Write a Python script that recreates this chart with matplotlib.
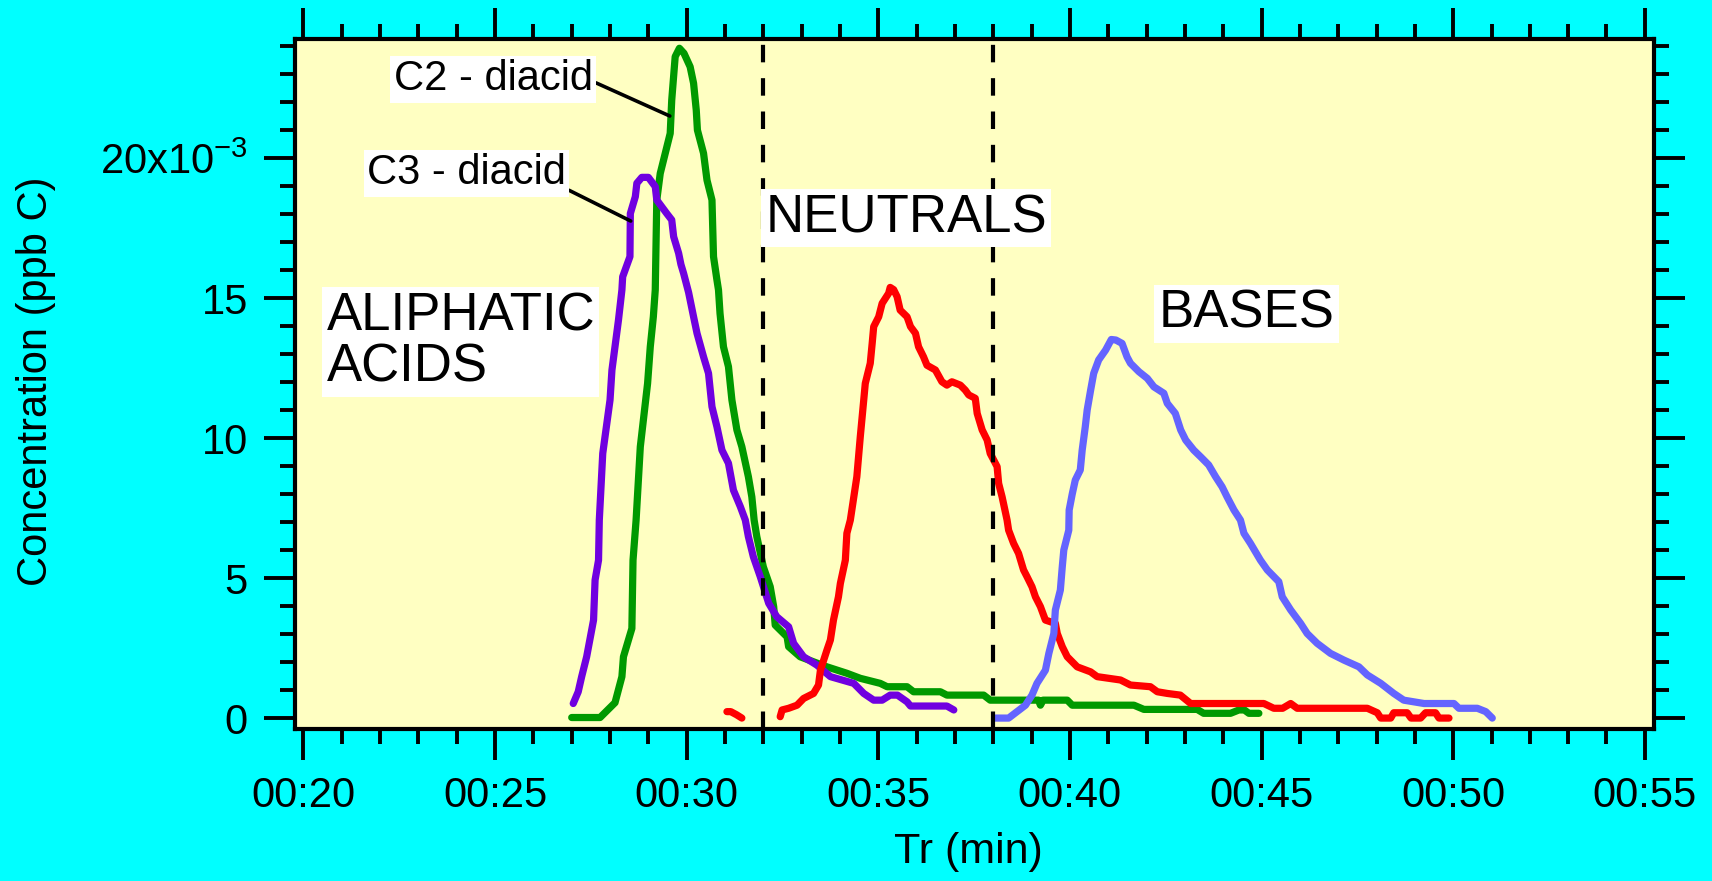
import matplotlib
matplotlib.use("Agg")
import matplotlib.pyplot as plt
from matplotlib.ticker import MultipleLocator, FuncFormatter

plt.rcParams['font.family'] = ['Liberation Sans', 'DejaVu Sans']
plt.rcParams['mathtext.default'] = 'regular'

# retention time (min) and concentration (x10^-3 ppb C)
c2_t = [27.00, 27.74, 28.13, 28.31, 28.35, 28.57, 28.60, 28.68, 28.79, 28.98, 29.05, 29.13,
        29.18, 29.22, 29.31, 29.57, 29.61, 29.70, 29.81, 29.93, 30.09, 30.18, 30.25, 30.28,
        30.44, 30.53, 30.66, 30.70, 30.79, 30.83, 30.87, 30.96, 31.09, 31.18, 31.31, 31.44,
        31.61, 31.70, 31.76, 31.83, 32.00, 32.18, 32.27, 32.31, 32.62, 32.66, 32.96, 33.31,
        33.66, 34.18, 34.53, 35.05, 35.23, 35.75, 35.92, 36.62, 36.79, 37.75, 37.92, 39.18,
        39.23, 39.30, 39.93, 40.06, 41.67, 41.93, 43.32, 43.49, 44.19, 44.41, 44.55, 44.67, 44.93]
c2_v = [0.02, 0.02, 0.55, 1.48, 2.19, 3.20, 5.64, 7.07, 9.69, 11.95, 13.26, 14.33,
        15.29, 18.50, 19.45, 20.88, 22.07, 23.62, 23.92, 23.74, 23.26, 22.67, 21.71, 21.00,
        20.17, 19.21, 18.50, 16.48, 15.64, 15.29, 14.45, 13.26, 12.55, 11.36, 10.29, 9.69,
        8.62, 7.90, 7.07, 6.48, 5.40, 4.69, 3.98, 3.32, 2.90, 2.55, 2.19, 2.01,
        1.83, 1.60, 1.42, 1.24, 1.12, 1.12, 0.94, 0.94, 0.82, 0.82, 0.64, 0.64,
        0.46, 0.64, 0.64, 0.46, 0.46, 0.31, 0.31, 0.17, 0.17, 0.29, 0.29, 0.17, 0.17]

c3_t = [27.04, 27.17, 27.26, 27.39, 27.57, 27.61, 27.70, 27.72, 27.81, 28.00, 28.05, 28.22,
        28.31, 28.33, 28.52, 28.53, 28.66, 28.70, 28.83, 29.00, 29.18, 29.22, 29.48, 29.61,
        29.66, 29.79, 29.85, 29.92, 30.05, 30.18, 30.27, 30.44, 30.57, 30.66, 30.79, 30.92,
        31.09, 31.22, 31.40, 31.53, 31.61, 31.74, 31.92, 32.14, 32.35, 32.66, 32.79, 33.05,
        33.40, 33.75, 34.36, 34.62, 34.88, 35.10, 35.31, 35.50, 35.75, 35.84, 36.79, 36.97]
c3_v = [0.52, 0.94, 1.48, 2.19, 3.50, 4.93, 5.64, 7.07, 9.45, 11.36, 12.43, 14.21,
        15.29, 15.76, 16.48, 18.02, 18.62, 19.10, 19.31, 19.31, 18.98, 18.50, 18.02, 17.79,
        17.19, 16.60, 16.20, 15.88, 15.20, 14.33, 13.74, 12.90, 12.31, 11.12, 10.40, 9.57,
        9.10, 8.14, 7.55, 7.07, 6.48, 5.76, 5.05, 4.10, 3.62, 3.26, 2.67, 2.19,
        1.89, 1.48, 1.24, 0.88, 0.64, 0.64, 0.82, 0.82, 0.58, 0.43, 0.43, 0.29]

neutral_frag_t = [31.05, 31.15, 31.30, 31.44]
neutral_frag_v = [0.23, 0.23, 0.12, 0.00]
neutral_t = [32.44, 32.49, 32.66, 32.88, 33.05, 33.31, 33.44, 33.49, 33.66, 33.75, 33.83, 33.96,
             34.01, 34.14, 34.18, 34.27, 34.44, 34.53, 34.62, 34.66, 34.79, 34.84, 34.88, 35.01,
             35.10, 35.27, 35.31, 35.40, 35.49, 35.57, 35.75, 35.84, 35.97, 36.05, 36.18, 36.27,
             36.49, 36.66, 36.79, 36.92, 37.14, 37.27, 37.36, 37.53, 37.58, 37.71, 37.84, 37.92,
             38.10, 38.14, 38.23, 38.36, 38.40, 38.53, 38.66, 38.79, 38.88, 39.01, 39.10, 39.23,
             39.36, 39.62, 39.67, 39.80, 39.93, 40.19, 40.54, 40.71, 41.32, 41.58, 42.10, 42.28,
             42.54, 42.88, 43.15, 45.06, 45.32, 45.55, 45.76, 45.93, 47.76, 48.02, 48.11, 48.37,
             48.45, 48.80, 48.90, 49.15, 49.28, 49.54, 49.63, 49.89]
neutral_v = [0.05, 0.29, 0.35, 0.46, 0.70, 0.88, 1.18, 1.71, 2.43, 2.79, 3.50, 4.33,
             4.81, 5.64, 6.60, 7.07, 8.62, 10.05, 11.36, 11.95, 12.67, 13.38, 13.98, 14.33,
             14.81, 15.17, 15.38, 15.30, 15.05, 14.57, 14.33, 13.98, 13.74, 13.26, 12.90, 12.60,
             12.43, 12.01, 11.89, 12.01, 11.89, 11.71, 11.54, 11.42, 10.88, 10.29, 9.93, 9.45,
             8.98, 8.38, 7.90, 7.07, 6.71, 6.24, 5.88, 5.29, 5.05, 4.69, 4.33, 3.98,
             3.50, 3.38, 3.02, 2.55, 2.19, 1.83, 1.65, 1.48, 1.36, 1.18, 1.12, 0.94,
             0.88, 0.82, 0.52, 0.52, 0.35, 0.35, 0.52, 0.35, 0.35, 0.19, 0.00, 0.00,
             0.19, 0.19, 0.00, 0.00, 0.19, 0.19, 0.00, 0.00]

base_t = [38.05, 38.40, 38.62, 38.84, 39.01, 39.14, 39.36, 39.45, 39.58, 39.62, 39.75, 39.80,
          39.84, 39.97, 39.98, 40.06, 40.14, 40.27, 40.32, 40.40, 40.45, 40.54, 40.62, 40.75,
          40.93, 41.08, 41.20, 41.36, 41.49, 41.58, 41.80, 42.02, 42.19, 42.45, 42.54, 42.75,
          42.89, 43.02, 43.23, 43.41, 43.62, 43.80, 43.97, 44.10, 44.28, 44.45, 44.54, 44.71,
          44.97, 45.15, 45.45, 45.54, 45.76, 46.02, 46.19, 46.45, 46.80, 47.15, 47.54, 47.76,
          48.11, 48.45, 48.71, 49.24, 50.02, 50.15, 50.63, 50.85, 51.02]
base_v = [0.00, 0.00, 0.23, 0.46, 0.82, 1.24, 1.71, 2.31, 3.02, 3.86, 4.57, 5.40,
          6.00, 6.71, 7.43, 8.00, 8.50, 8.86, 9.57, 10.40, 11.00, 11.71, 12.31, 12.79,
          13.14, 13.52, 13.50, 13.38, 12.90, 12.67, 12.37, 12.13, 11.83, 11.60, 11.24, 10.88,
          10.29, 9.93, 9.57, 9.33, 9.04, 8.62, 8.26, 7.90, 7.43, 7.07, 6.60, 6.24,
          5.64, 5.29, 4.87, 4.33, 3.86, 3.38, 3.02, 2.67, 2.31, 2.07, 1.83, 1.54,
          1.24, 0.88, 0.64, 0.52, 0.52, 0.35, 0.35, 0.23, 0.00]

fraction_bounds = [32, 38]
y_ticks = [0, 5, 10, 15, 20]
y_tick_labels = ['0', '5', '10', '15', '20x10$^{-3}$']

# label text, text position, leader line end (or None)
labels = [
    ('C2 - diacid', (24.95, 22.81), (29.56, 21.50), (1.0, 0.45), 30),
    ('C3 - diacid', (24.25, 19.45), (28.54, 17.75), (1.0, 0.12), 30),
    ('NEUTRALS', (35.73, 17.85), None, None, 38),
    ('BASES', (44.61, 14.44), None, None, 38),
]

SCALE = 1e-3

fig = plt.figure(figsize=(17.12, 8.81), dpi=100, facecolor='#00FFFF')
ax = fig.add_axes([295 / 1712, 1 - 729 / 881, (1654 - 295) / 1712, (729 - 39.3) / 881])
ax.set_facecolor('#FFFFC2')

line_kw = dict(lw=5.2, solid_capstyle='round', solid_joinstyle='round', zorder=2)
ax.plot(c2_t, [v * SCALE for v in c2_v], color='#009900', **line_kw)
ax.plot(c3_t, [v * SCALE for v in c3_v], color='#7000E0', **line_kw)
ax.plot(neutral_frag_t, [v * SCALE for v in neutral_frag_v], color='#FF0000', **line_kw)
ax.plot(neutral_t, [v * SCALE for v in neutral_v], color='#FF0000', **line_kw)
ax.plot(base_t, [v * SCALE for v in base_v], color='#6464FF', **line_kw)

for xb in fraction_bounds:
    ax.axvline(xb, color='black', lw=3.0, dashes=(4.2, 3.8), dash_capstyle='butt', zorder=3)

box = dict(boxstyle='square,pad=0.08', fc='white', ec='none')
for txt, pos, tip, rel, fs in labels:
    if tip is None:
        ax.text(pos[0], pos[1] * SCALE, txt, fontsize=fs, ha='center', va='center',
                bbox=box, zorder=5)
    else:
        ax.annotate(txt, xy=(tip[0], tip[1] * SCALE), xytext=(pos[0], pos[1] * SCALE),
                    fontsize=fs, ha='center', va='center', bbox=box, zorder=5,
                    arrowprops=dict(arrowstyle='-', color='black', lw=2.6,
                                    shrinkA=0, shrinkB=0, relpos=rel))
ax.text(20.6, 13.43 * SCALE, 'ALIPHATIC\nACIDS', fontsize=38, ha='left', va='center',
        multialignment='left', linespacing=1.05, bbox=box, zorder=5)

ax.set_xlim(19.78, 55.24)
ax.set_ylim(-0.39 * SCALE, 24.24 * SCALE)

ax.xaxis.set_major_locator(MultipleLocator(5))
ax.xaxis.set_minor_locator(MultipleLocator(1))
ax.xaxis.set_major_formatter(FuncFormatter(lambda t, p: f"00:{int(round(t)):02d}"))
ax.set_yticks([v * SCALE for v in y_ticks])
ax.set_yticklabels(y_tick_labels)
ax.yaxis.set_minor_locator(MultipleLocator(1 * SCALE))

ax.tick_params(which='both', direction='out', top=True, right=True, width=2.8, color='black')
ax.tick_params(which='major', length=22, pad=12, labelsize=30)
ax.tick_params(which='minor', length=11)
for s in ax.spines.values():
    s.set_linewidth(3.0)

fig.text(36 / 1712, 1 - 381 / 881, 'Concentration (ppb C)', rotation=90,
         ha='center', va='center', fontsize=30)
fig.text(968 / 1712, 1 - 852 / 881, 'Tr (min)', ha='center', va='center', fontsize=31)

fig.savefig('out.png', dpi=100, facecolor=fig.get_facecolor())
